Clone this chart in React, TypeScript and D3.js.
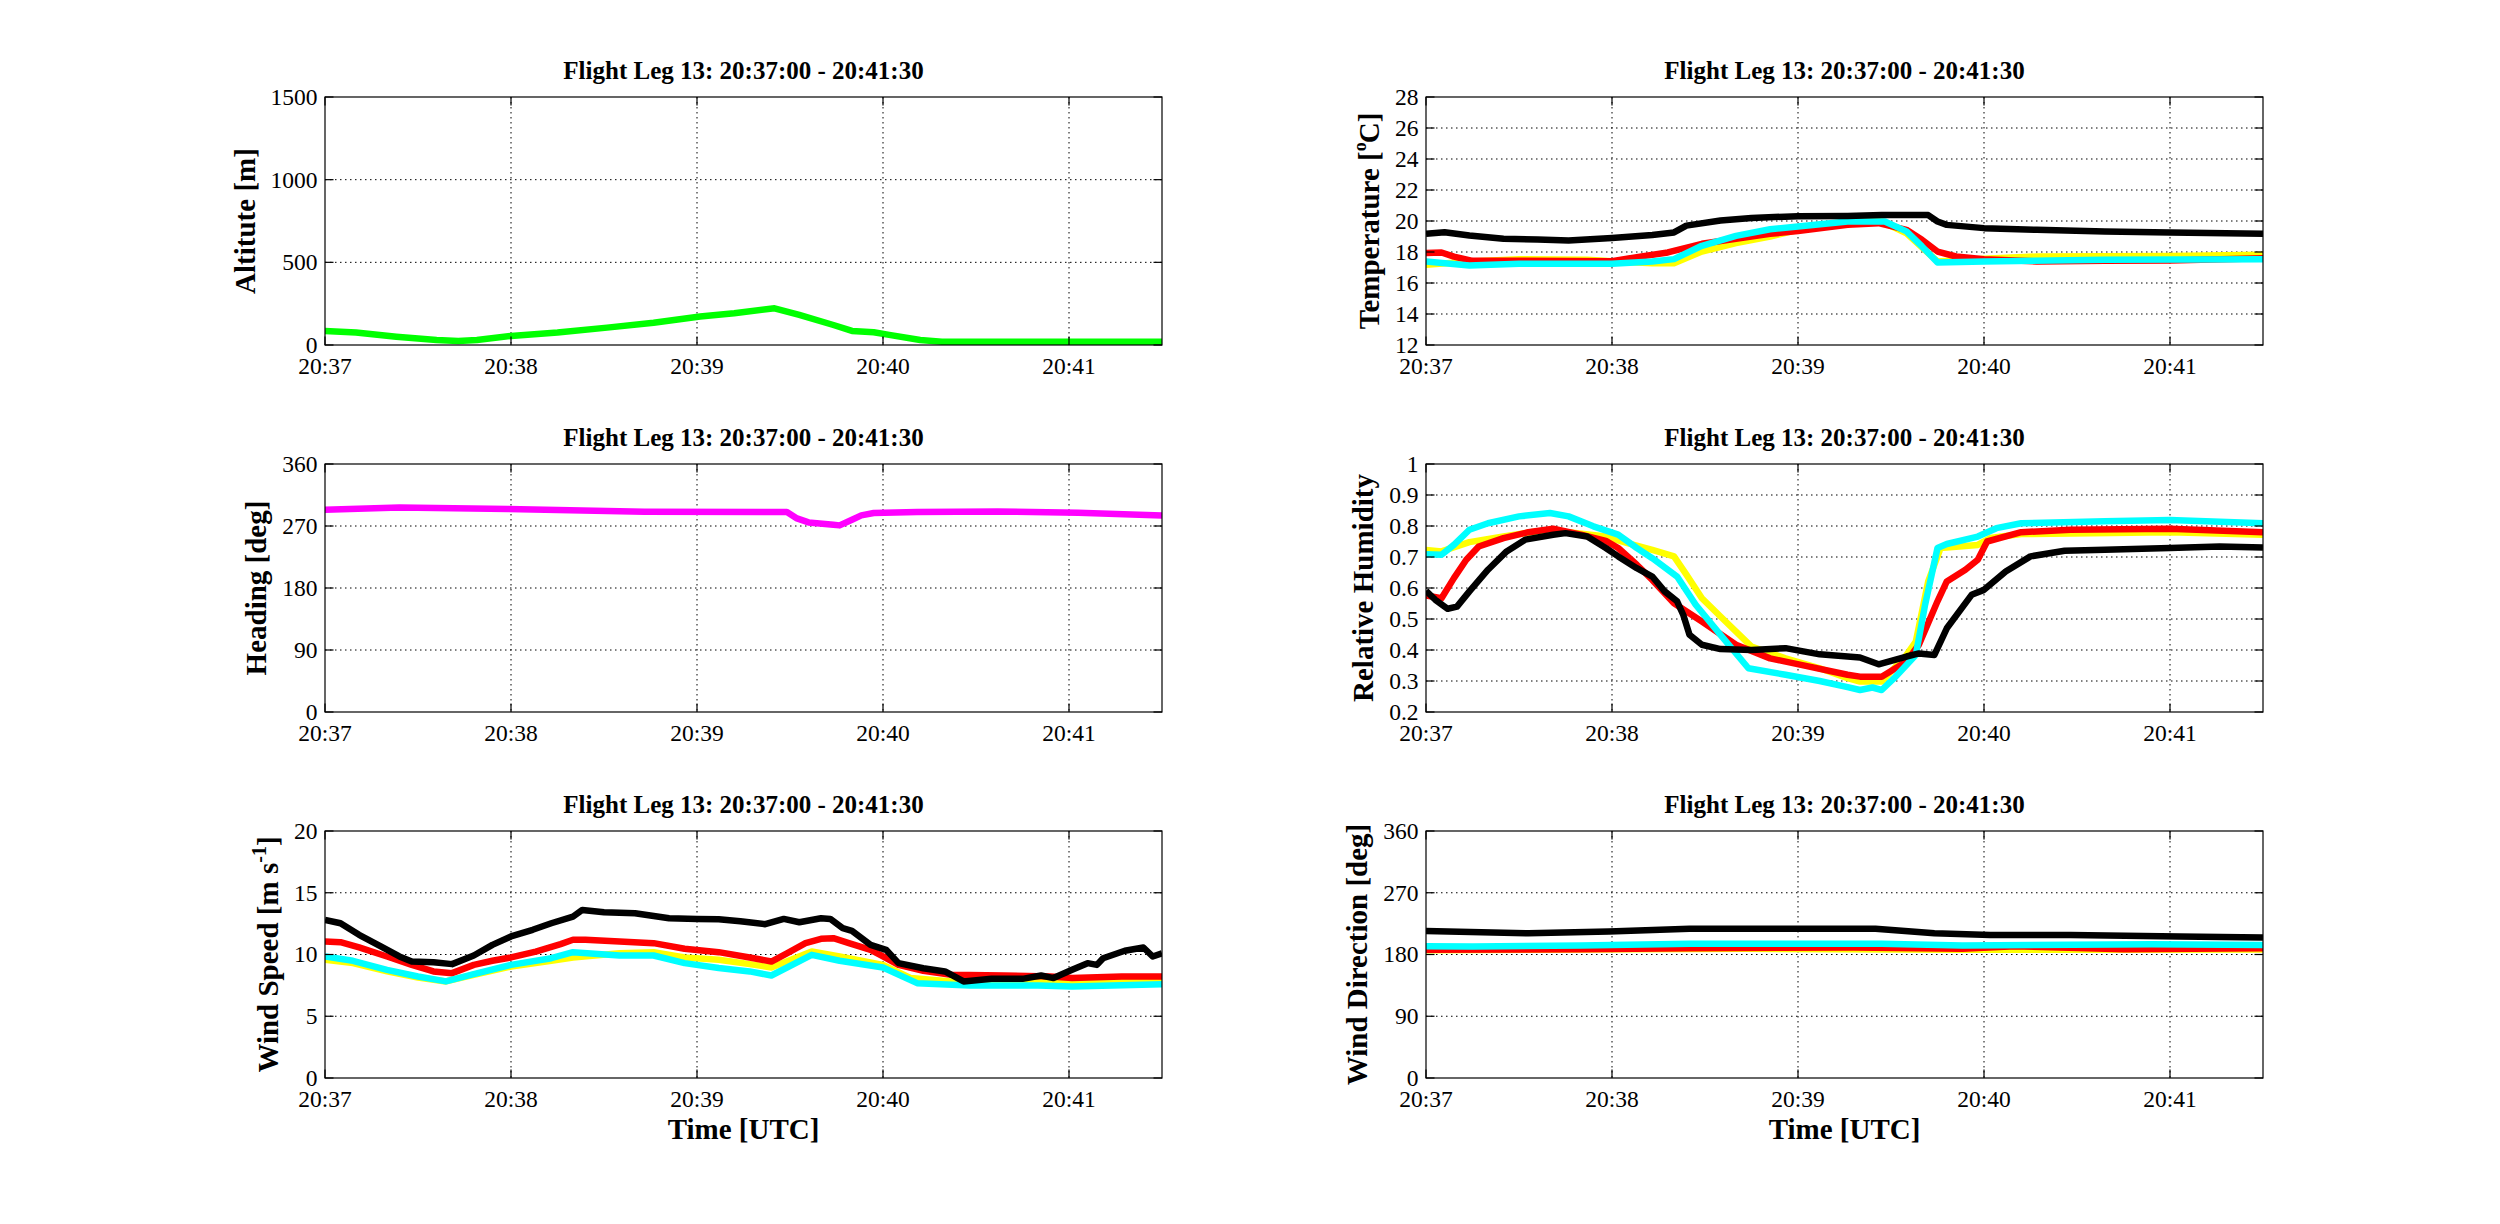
import * as d3 from 'd3'
import type { ReactNode } from 'react'

const W = 2500
const H = 1224
const FONT = '"Liberation Serif", "Times New Roman", Times, serif'
const TICK_FS = 23.5
const LABEL_FS = 29
const TITLE_FS = 25
const LINE_W = 6.5

const titleText = 'Flight Leg 13: 20:37:00 - 20:41:30'
const timeStart = new Date(2013, 0, 1, 20, 37, 0)
const timeEnd = new Date(2013, 0, 1, 20, 41, 30)

// [seconds after 20:37:00, value]
const altitude: [number, number][] = [
	[0, 85], [10, 75], [23, 50], [36, 30], [43, 24], [49, 30], [60, 55], [75, 75],
	[91, 105], [106, 135], [121, 172], [132, 192], [145, 222], [153, 182], [164, 121],
	[170, 85], [177, 77], [182, 61], [192, 30], [199, 20], [270, 20],
]

const heading: [number, number][] = [
	[0, 293.6], [24, 297], [59, 294.6], [103, 290.7], [149, 290.2], [152, 281.5],
	[156, 275.2], [164, 271.8], [166, 270.9], [170, 279.1], [173, 285.4], [177, 288.8],
	[191, 290.2], [217, 291.2], [243, 289.3], [270, 285.4],
]

const windSpeedBlack: [number, number][] = [
	[0, 12.8], [5, 12.53], [11, 11.59], [18, 10.65], [24, 9.84], [28, 9.43], [35, 9.38],
	[41, 9.22], [48, 9.92], [54, 10.78], [60, 11.46], [67, 12.0], [73, 12.53], [80, 13.07],
	[83, 13.61], [90, 13.42], [100, 13.34], [111, 12.94], [120, 12.88], [127, 12.86],
	[134, 12.7], [142, 12.45], [148, 12.88], [153, 12.61], [160, 12.94], [163, 12.88],
	[167, 12.13], [170, 11.91], [176, 10.78], [181, 10.38], [185, 9.3], [193, 8.89],
	[200, 8.63], [206, 7.82], [215, 8.03], [225, 8.03], [231, 8.3], [235, 8.09],
	[241, 8.76], [246, 9.3], [249, 9.16], [251, 9.7], [258, 10.3], [264, 10.57],
	[267, 9.84], [270, 10.1],
]
const windSpeedRed: [number, number][] = [
	[0, 11.05], [5, 11.0], [11, 10.57], [20, 9.84], [28, 9.16], [35, 8.63], [41, 8.49],
	[48, 9.16], [54, 9.49], [60, 9.76], [68, 10.24], [76, 10.84], [80, 11.19], [84, 11.19],
	[95, 11.05], [106, 10.92], [116, 10.46], [127, 10.19], [137, 9.76], [144, 9.43],
	[149, 10.1], [155, 10.92], [160, 11.27], [164, 11.32], [169, 10.92], [176, 10.38],
	[180, 9.84], [185, 9.16], [193, 8.68], [202, 8.36], [219, 8.3], [234, 8.22],
	[241, 8.09], [257, 8.22], [270, 8.22],
]
const windSpeedYellow: [number, number][] = [
	[0, 9.57], [9, 9.3], [20, 8.63], [30, 8.14], [39, 7.82], [48, 8.36], [60, 9.03],
	[73, 9.49], [80, 9.76], [95, 10.11], [106, 10.19], [116, 9.76], [127, 9.57],
	[137, 9.22], [144, 8.95], [157, 10.24], [166, 9.84], [180, 9.16], [189, 8.09],
	[202, 7.82], [230, 7.82], [241, 7.8], [270, 7.87],
]
const windSpeedCyan: [number, number][] = [
	[0, 9.84], [9, 9.49], [20, 8.76], [30, 8.22], [39, 7.82], [48, 8.41], [60, 9.16],
	[73, 9.7], [80, 10.19], [95, 9.92], [106, 9.92], [116, 9.3], [127, 8.9], [137, 8.63],
	[144, 8.3], [157, 9.97], [166, 9.49], [180, 8.95], [191, 7.68], [208, 7.49],
	[230, 7.49], [241, 7.41], [270, 7.6],
]

const tempBlack: [number, number][] = [
	[0, 19.17], [6, 19.28], [14, 19.07], [25, 18.85], [36, 18.8], [46, 18.74], [60, 18.9],
	[73, 19.1], [80, 19.26], [84, 19.7], [95, 20.03], [105, 20.2], [120, 20.31],
	[136, 20.33], [147, 20.38], [162, 20.38], [165, 19.97], [168, 19.75], [180, 19.54],
	[197, 19.43], [219, 19.32], [240, 19.26], [270, 19.17],
]
const tempRed: [number, number][] = [
	[0, 17.93], [5, 17.97], [9, 17.7], [15, 17.43], [30, 17.43], [60, 17.4], [68, 17.67],
	[78, 17.97], [89, 18.53], [100, 18.85], [111, 19.17], [120, 19.35], [136, 19.75],
	[146, 19.86], [155, 19.43], [160, 18.79], [165, 18.03], [171, 17.71], [180, 17.54],
	[197, 17.39], [219, 17.43], [240, 17.45], [270, 17.6],
]
const tempYellow: [number, number][] = [
	[0, 17.17], [14, 17.39], [30, 17.54], [52, 17.5], [60, 17.4], [73, 17.28], [80, 17.28],
	[89, 18.03], [100, 18.57], [111, 19.0], [120, 19.43], [136, 19.97], [147, 19.97],
	[155, 19.2], [165, 17.39], [180, 17.56], [197, 17.71], [240, 17.75], [270, 17.82],
]
const tempCyan: [number, number][] = [
	[0, 17.39], [14, 17.13], [30, 17.24], [60, 17.24], [73, 17.39], [80, 17.54],
	[89, 18.4], [100, 19.04], [111, 19.47], [120, 19.65], [136, 19.97], [148, 19.97],
	[155, 19.33], [160, 18.36], [165, 17.33], [180, 17.39], [219, 17.5], [270, 17.54],
]

const rhBlack: [number, number][] = [
	[0, 0.591], [3, 0.562], [7, 0.533], [10, 0.54], [14, 0.589], [20, 0.659], [26, 0.718],
	[32, 0.756], [41, 0.772], [45, 0.777], [52, 0.766], [58, 0.729], [62, 0.702],
	[68, 0.664], [73, 0.637], [77, 0.589], [81, 0.557], [83, 0.513], [85, 0.449],
	[89, 0.417], [95, 0.403], [105, 0.4], [116, 0.406], [127, 0.386], [136, 0.379],
	[140, 0.376], [146, 0.354], [155, 0.379], [159, 0.389], [164, 0.384], [168, 0.47],
	[176, 0.578], [180, 0.594], [187, 0.653], [195, 0.702], [206, 0.72], [219, 0.723],
	[240, 0.729], [256, 0.734], [270, 0.731],
]
const rhRed: [number, number][] = [
	[0, 0.576], [5, 0.567], [9, 0.632], [13, 0.691], [17, 0.734], [25, 0.761], [33, 0.78],
	[41, 0.791], [50, 0.772], [58, 0.752], [62, 0.729], [68, 0.675], [73, 0.626],
	[80, 0.551], [89, 0.492], [100, 0.417], [111, 0.373], [121, 0.352], [136, 0.32],
	[140, 0.314], [147, 0.314], [155, 0.363], [159, 0.417], [165, 0.557], [168, 0.621],
	[174, 0.659], [178, 0.691], [181, 0.75], [192, 0.78], [208, 0.788], [240, 0.791],
	[270, 0.78],
]
const rhYellow: [number, number][] = [
	[0, 0.723], [5, 0.718], [14, 0.748], [25, 0.766], [36, 0.783], [46, 0.78], [58, 0.766],
	[65, 0.745], [73, 0.723], [80, 0.702], [84, 0.643], [89, 0.567], [95, 0.508],
	[105, 0.411], [116, 0.373], [127, 0.341], [136, 0.309], [140, 0.298], [147, 0.298],
	[155, 0.384], [158, 0.427], [162, 0.621], [166, 0.729], [178, 0.739], [182, 0.761],
	[192, 0.774], [240, 0.78], [270, 0.772],
]
const rhCyan: [number, number][] = [
	[0, 0.709], [5, 0.707], [9, 0.739], [14, 0.788], [20, 0.809], [30, 0.831], [40, 0.842],
	[46, 0.831], [54, 0.799], [62, 0.772], [68, 0.729], [73, 0.696], [81, 0.637],
	[87, 0.546], [95, 0.449], [104, 0.341], [116, 0.32], [127, 0.3], [136, 0.28],
	[140, 0.271], [144, 0.279], [147, 0.271], [151, 0.309], [158, 0.384], [161, 0.546],
	[165, 0.729], [168, 0.742], [178, 0.766], [184, 0.793], [192, 0.809], [219, 0.815],
	[240, 0.819], [270, 0.809],
]

const windDirBlack: [number, number][] = [
	[0, 214.4], [33, 211], [59, 213.5], [85, 217.4], [120, 217.4], [145, 217.4],
	[164, 211], [182, 208.6], [208, 208.6], [243, 206.2], [270, 204.7],
]
const windDirRed: [number, number][] = [
	[0, 186.8], [50, 187.8], [85, 189.2], [138, 190.2], [173, 188.2], [190, 192],
	[225, 187.8], [270, 189.2],
]
const windDirYellow: [number, number][] = [
	[0, 186.3], [103, 188.2], [173, 186.8], [270, 187.3],
]
const windDirCyan: [number, number][] = [
	[0, 192], [15, 191.6], [50, 193.1], [85, 195.5], [147, 195.5], [173, 193],
	[234, 195], [270, 194],
]

const altitudeTicks = [0, 500, 1000, 1500]
const degreeTicks = [0, 90, 180, 270, 360]
const windSpeedTicks = [0, 5, 10, 15, 20]
const tempTicks = [12, 14, 16, 18, 20, 22, 24, 26, 28]
const rhTicks = [0.2, 0.3, 0.4, 0.5, 0.6, 0.7, 0.8, 0.9, 1]

const toDate = (s: number) => new Date(timeStart.getTime() + s * 1000)
const tickLabel = (v: number) => String(+v.toFixed(2))
const textWidth = (s: string) =>
	[...s].reduce((a, c) => a + (c === '.' ? 0.25 : 0.5), 0) * TICK_FS

interface Series {
	data: [number, number][]
	color: string
}

interface PanelProps {
	id: string
	x0: number
	x1: number
	y0: number
	y1: number
	yTicks: number[]
	yLabel: ReactNode
	series: Series[]
	xLabel?: string
}

function Panel({ id, x0, x1, y0, y1, yTicks, yLabel, series, xLabel }: PanelProps) {
	const x = d3.scaleTime().domain([timeStart, timeEnd]).range([x0, x1])
	const y = d3
		.scaleLinear()
		.domain([yTicks[0], yTicks[yTicks.length - 1]])
		.range([y1, y0])
	const line = d3
		.line<[number, number]>()
		.x((d) => x(toDate(d[0])))
		.y((d) => y(d[1]))
	const xTicks = x.ticks(d3.timeMinute.every(1)!)
	const fmt = d3.timeFormat('%H:%M')
	const tickLen = 8.5
	const maxW = Math.max(...yTicks.map((t) => textWidth(tickLabel(t))))
	const yLabelX = x0 - 7.5 - maxW - 16
	const cx = (x0 + x1) / 2
	const cy = (y0 + y1) / 2

	return (
		<g>
			<defs>
				<clipPath id={id}>
					<rect x={x0} y={y0} width={x1 - x0} height={y1 - y0} />
				</clipPath>
			</defs>
			{/* grid */}
			{xTicks.slice(1).map((t, i) => (
				<line key={`gx${i}`} x1={x(t)} x2={x(t)} y1={y0} y2={y1}
					stroke='#000' strokeWidth={1} strokeDasharray='1.5 3.5' />
			))}
			{yTicks.slice(1, -1).map((t, i) => (
				<line key={`gy${i}`} x1={x0} x2={x1} y1={y(t)} y2={y(t)}
					stroke='#000' strokeWidth={1} strokeDasharray='1.5 3.5' />
			))}
			{/* data */}
			<g clipPath={`url(#${id})`}>
				{series.map((s, i) => (
					<path key={i} d={line(s.data) ?? ''} fill='none' stroke={s.color}
						strokeWidth={LINE_W} strokeLinejoin='round' />
				))}
			</g>
			{/* box and ticks */}
			<rect x={x0} y={y0} width={x1 - x0} height={y1 - y0} fill='none' stroke='#000' strokeWidth={1.2} />
			{xTicks.map((t, i) => (
				<g key={`tx${i}`}>
					<line x1={x(t)} x2={x(t)} y1={y1} y2={y1 - tickLen} stroke='#000' strokeWidth={1.2} />
					<line x1={x(t)} x2={x(t)} y1={y0} y2={y0 + tickLen} stroke='#000' strokeWidth={1.2} />
					<text x={x(t)} y={y1 + 28.5} textAnchor='middle' fontSize={TICK_FS}>
						{fmt(t)}
					</text>
				</g>
			))}
			{yTicks.map((t, i) => (
				<g key={`ty${i}`}>
					<line x1={x0} x2={x0 + tickLen} y1={y(t)} y2={y(t)} stroke='#000' strokeWidth={1.2} />
					<line x1={x1} x2={x1 - tickLen} y1={y(t)} y2={y(t)} stroke='#000' strokeWidth={1.2} />
					<text x={x0 - 7.5} y={y(t)} dy='0.34em' textAnchor='end' fontSize={TICK_FS}>
						{tickLabel(t)}
					</text>
				</g>
			))}
			{/* title and labels */}
			<text x={cx} y={y0 - 18} textAnchor='middle' fontSize={TITLE_FS} fontWeight='bold'>
				{titleText}
			</text>
			<text transform={`translate(${yLabelX},${cy}) rotate(-90)`} textAnchor='middle'
				fontSize={LABEL_FS} fontWeight='bold'>
				{yLabel}
			</text>
			{xLabel && (
				<text x={cx} y={y1 + 61} textAnchor='middle' fontSize={LABEL_FS} fontWeight='bold'>
					{xLabel}
				</text>
			)}
		</g>
	)
}

const YELLOW = '#ffff00'
const RED = '#ff0000'
const CYAN = '#00ffff'
const BLACK = '#000000'

export default function App() {
	const colL = [325, 1162]
	const colR = [1426, 2263]
	const rows = [
		[97, 345],
		[464, 712],
		[831, 1078],
	]

	return (
		<svg width={W} height={H} viewBox={`0 0 ${W} ${H}`}
			style={{ position: 'absolute', left: 0, top: 0, display: 'block', background: '#fff' }}
			fontFamily={FONT}>
			<rect width={W} height={H} fill='#fff' />
			<Panel id='c1' x0={colL[0]} x1={colL[1]} y0={rows[0][0]} y1={rows[0][1]}
				yTicks={altitudeTicks} yLabel='Altitute [m]'
				series={[{ data: altitude, color: '#00ff00' }]} />
			<Panel id='c2' x0={colR[0]} x1={colR[1]} y0={rows[0][0]} y1={rows[0][1]}
				yTicks={tempTicks}
				yLabel={<>Temperature [<tspan dy={-13} fontSize={18}>o</tspan><tspan dy={13} dx={-1}>C]</tspan></>}
				series={[
					{ data: tempYellow, color: YELLOW },
					{ data: tempRed, color: RED },
					{ data: tempCyan, color: CYAN },
					{ data: tempBlack, color: BLACK },
				]} />
			<Panel id='c3' x0={colL[0]} x1={colL[1]} y0={rows[1][0]} y1={rows[1][1]}
				yTicks={degreeTicks} yLabel='Heading [deg]'
				series={[{ data: heading, color: '#ff00ff' }]} />
			<Panel id='c4' x0={colR[0]} x1={colR[1]} y0={rows[1][0]} y1={rows[1][1]}
				yTicks={rhTicks} yLabel='Relative Humidity'
				series={[
					{ data: rhYellow, color: YELLOW },
					{ data: rhRed, color: RED },
					{ data: rhCyan, color: CYAN },
					{ data: rhBlack, color: BLACK },
				]} />
			<Panel id='c5' x0={colL[0]} x1={colL[1]} y0={rows[2][0]} y1={rows[2][1]}
				yTicks={windSpeedTicks}
				yLabel={<>Wind Speed [m s<tspan dy={-12} fontSize={20}>-1</tspan><tspan dy={12}>]</tspan></>}
				xLabel='Time [UTC]'
				series={[
					{ data: windSpeedYellow, color: YELLOW },
					{ data: windSpeedRed, color: RED },
					{ data: windSpeedCyan, color: CYAN },
					{ data: windSpeedBlack, color: BLACK },
				]} />
			<Panel id='c6' x0={colR[0]} x1={colR[1]} y0={rows[2][0]} y1={rows[2][1]}
				yTicks={degreeTicks} yLabel='Wind Direction [deg]' xLabel='Time [UTC]'
				series={[
					{ data: windDirYellow, color: YELLOW },
					{ data: windDirRed, color: RED },
					{ data: windDirCyan, color: CYAN },
					{ data: windDirBlack, color: BLACK },
				]} />
		</svg>
	)
}
